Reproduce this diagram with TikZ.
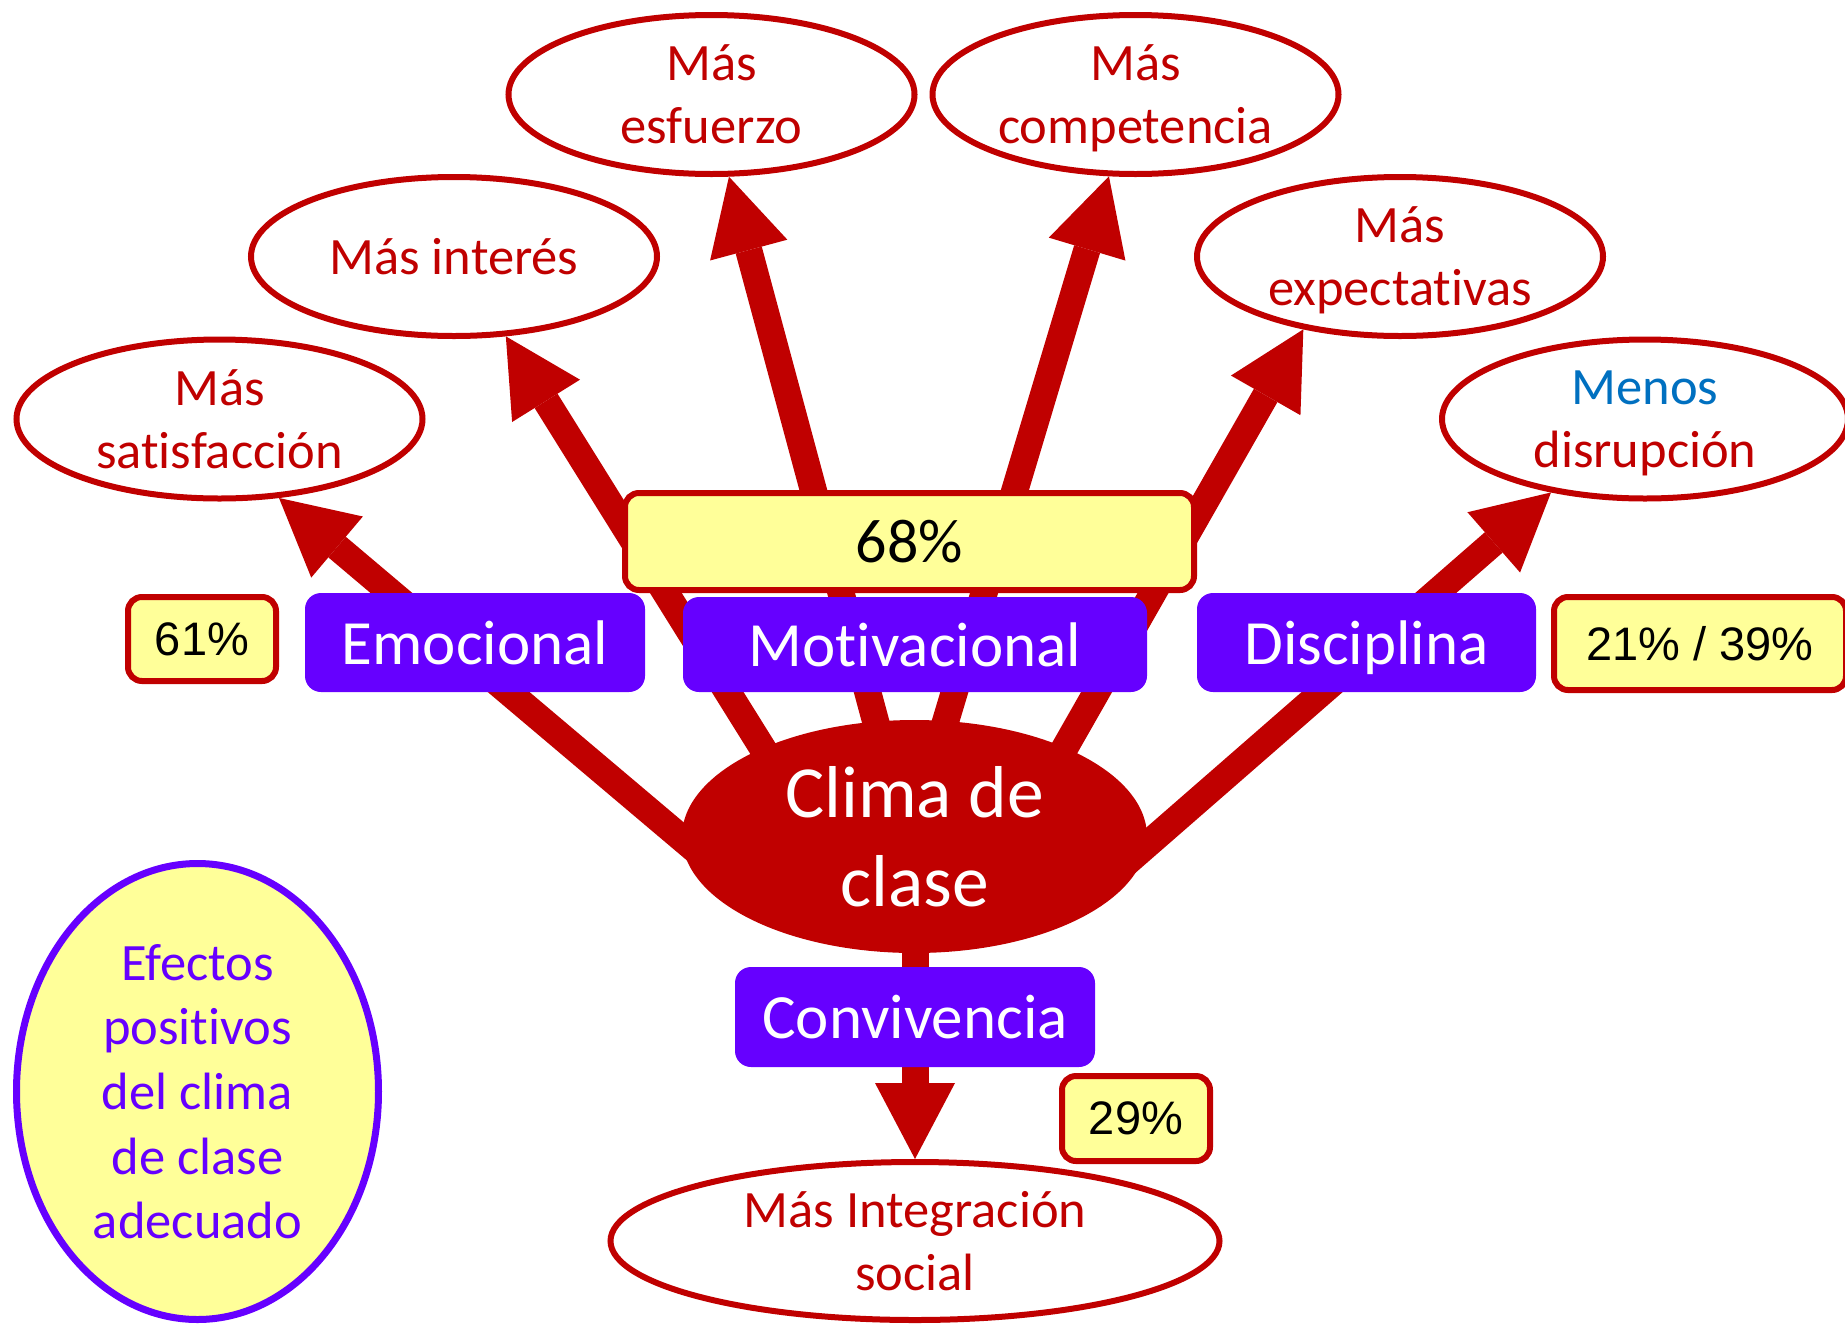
\documentclass[tikz,border=0pt]{standalone}
\usepackage{fontspec}
\setmainfont{Carlito}[Ligatures=NoCommon]
\newfontfamily\arialf{Liberation Sans}
\usetikzlibrary{arrows.meta,shapes.geometric}
\definecolor{dred}{HTML}{C00000}
\definecolor{purp}{HTML}{6600FF}
\definecolor{yel}{HTML}{FFFF99}
\definecolor{blu}{HTML}{0070C0}
\begin{document}
\begin{tikzpicture}[x=1pt,y=-1pt,
  effect/.style={ellipse, draw=dred, fill=white, line width=6pt, minimum width=406pt, minimum height=159pt, inner sep=0pt, align=center, text=dred, text depth=0pt, font=\fontsize{52.5}{63}\selectfont},
  pct/.style={draw=dred, fill=yel, line width=6pt, rounded corners=14pt, inner sep=0pt, text=black, font=\arialf\fontsize{47}{56}\selectfont},
  dimbox/.style={fill=purp, rounded corners=16pt, inner sep=0pt, text=white, text depth=0pt, font=\fontsize{63}{75}\selectfont},
  bigarrow/.style={draw=dred, line width=27pt, -{Triangle[length=76pt,width=80pt,line width=0pt]}},
]
\path[use as bounding box] (0,0) rectangle (1845,1326);
\clip (0,0) rectangle (1845,1326);

% effect ellipses
\node[effect] (sat) at (219.5,419) {Más\\satisfacción};
\node[effect] (int) at (454,256.5) {Más interés};
\node[effect] (esf) at (711.5,94.5) {Más\\esfuerzo};
\node[effect] (comp) at (1135.5,94.5) {Más\\competencia};
\node[effect] (expe) at (1400,256.5) {Más\\expectativas};
\node[effect] (dis) at (1645,419) {\textcolor{blu}{Menos}\\disrupción};
\node[effect, minimum width=609pt, minimum height=158pt] (integ) at (915,1241) {Más Integración\\social};
\node[effect, draw=purp, fill=yel, text=purp, line width=7pt, minimum width=362pt, minimum height=456pt, font=\fontsize{52.5}{64.7}\selectfont] (efectos) at (197.5,1091.5) {Efectos\\positivos\\del clima\\de clase\\adecuado};

% arrow start points (inside the central ellipse)
\coordinate (s1) at (705,858);
\coordinate (s2) at (770,760);
\coordinate (s3) at (886,760);
\coordinate (s4) at (934,760);
\coordinate (s5) at (1055,765);
\coordinate (s6) at (1125,864);
\coordinate (s7) at (915,900);

\draw[bigarrow] (s1) -- (sat.307.2);
\draw[bigarrow] (s2) -- (int.303.5);
\draw[bigarrow] (s3) -- (esf.282.4);
\draw[bigarrow] (s4) -- (comp.252.4);
\draw[bigarrow] (s5) -- (expe.217.1);
\draw[bigarrow] (s6) -- (dis.218.4);
\draw[bigarrow] (s7) -- (integ.north);

% central ellipse
\node[ellipse, fill=dred, minimum width=465pt, minimum height=233pt, inner sep=0pt, text=white, align=center, text depth=0pt, font=\fontsize{73.5}{89.5}\selectfont] (clima) at (914.5,836.5) {Clima de\\clase};

% boxes
\node[pct, minimum width=569pt, minimum height=97pt, font=\fontsize{62}{70}\selectfont] (p68) at (909.5,541.5) {68\%};
\node[pct, minimum width=148pt, minimum height=84pt] (p61) at (202,639) {61\%};
\node[dimbox, minimum width=340pt, minimum height=99pt] (emo) at (475,642.5) {Emocional};
\node[dimbox, minimum width=464pt, minimum height=95pt] (mot) at (915,644.5) {Motivacional};
\node[dimbox, minimum width=339pt, minimum height=99pt] (disc) at (1366.5,642.5) {Disciplina};
\node[pct, minimum width=292pt, minimum height=93pt] (p2139) at (1700,643.5) {21\% / 39\%};
\node[dimbox, minimum width=360pt, minimum height=100pt] (conv) at (915,1017) {Convivencia};
\node[pct, minimum width=148pt, minimum height=85pt] (p29) at (1136,1118.5) {29\%};
\end{tikzpicture}
\end{document}
